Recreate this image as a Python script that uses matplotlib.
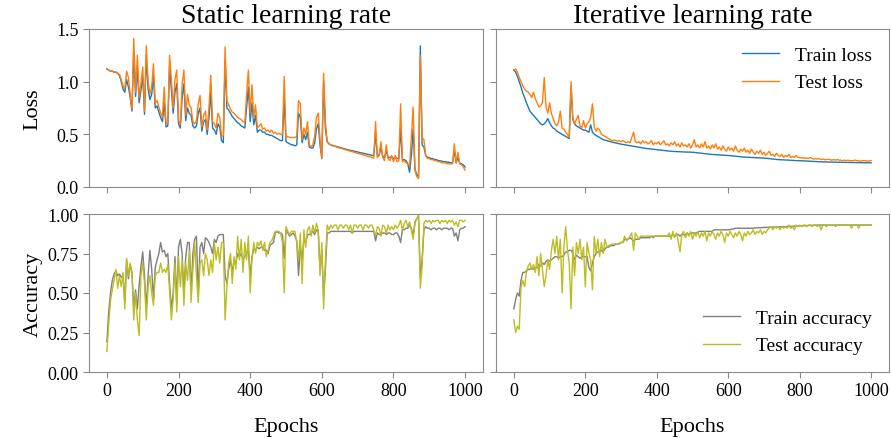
import numpy as np
import matplotlib
matplotlib.use("Agg")
import matplotlib.pyplot as plt

plt.rcParams['font.family'] = ['Liberation Serif', 'DejaVu Serif']

# one reading every 5 epochs, 0..1000
epochs = np.arange(0, 1001, 5)

static_train_loss = [
    1.12, 1.11, 1.10, 1.10, 1.09, 1.09, 1.08, 1.06, 1.00, 0.93,
    0.90, 1.02, 0.95, 0.85, 0.72, 1.30, 0.86, 1.15, 0.80, 0.92,
    1.05, 0.69, 1.25, 0.93, 0.83, 0.88, 1.05, 0.75, 0.77, 0.71,
    0.66, 0.62, 0.80, 0.57, 0.58, 1.15, 0.92, 0.70, 0.90, 0.98,
    0.60, 0.56, 0.85, 0.98, 0.63, 0.75, 0.70, 0.68, 0.58, 0.56,
    0.58, 0.70, 0.75, 0.53, 0.62, 0.64, 0.50, 0.66, 0.90, 0.56,
    0.54, 0.50, 0.60, 0.57, 0.44, 0.42, 1.20, 0.75, 0.73, 0.70,
    0.67, 0.65, 0.63, 0.61, 0.60, 0.58, 0.57, 0.56, 0.75, 0.95,
    0.62, 0.80, 0.59, 0.68, 0.52, 0.54, 0.54, 0.52, 0.52, 0.50,
    0.50, 0.49, 0.49, 0.48, 0.47, 0.46, 0.45, 0.44, 0.44, 0.85,
    0.43, 0.42, 0.41, 0.40, 0.40, 0.39, 0.40, 0.70, 0.66, 0.42,
    0.50, 0.45, 0.52, 0.38, 0.37, 0.37, 0.42, 0.55, 0.60, 0.40,
    0.27, 1.00, 0.55, 0.43, 0.41, 0.40, 0.395, 0.39, 0.385, 0.38,
    0.375, 0.37, 0.365, 0.36, 0.356, 0.352, 0.348, 0.344, 0.34, 0.336,
    0.332, 0.328, 0.324, 0.32, 0.316, 0.312, 0.308, 0.304, 0.30, 0.297,
    0.50, 0.30, 0.30, 0.38, 0.29, 0.28, 0.34, 0.28, 0.28, 0.29,
    0.27, 0.28, 0.27, 0.27, 0.55, 0.26, 0.26, 0.25, 0.22, 0.14,
    0.30, 0.55, 0.17, 0.12, 0.10, 1.34, 0.40, 0.38, 0.30, 0.28,
    0.28, 0.27, 0.27, 0.26, 0.26, 0.25, 0.25, 0.245, 0.24, 0.24,
    0.235, 0.235, 0.23, 0.23, 0.35, 0.23, 0.28, 0.225, 0.22, 0.21,
    0.19,
]
static_test_loss = [
    1.12, 1.11, 1.10, 1.10, 1.09, 1.09, 1.08, 1.07, 1.02, 0.96,
    0.93, 1.10, 1.04, 0.88, 0.74, 1.41, 0.90, 1.25, 0.85, 0.98,
    1.14, 0.72, 1.34, 1.00, 0.88, 0.95, 1.17, 0.79, 0.82, 0.76,
    0.70, 0.66, 0.95, 0.60, 0.61, 1.25, 1.02, 0.75, 1.02, 1.11,
    0.64, 0.59, 0.98, 1.11, 0.68, 0.88, 0.78, 0.75, 0.62, 0.60,
    0.63, 0.79, 0.87, 0.57, 0.68, 0.72, 0.54, 0.76, 1.06, 0.62,
    0.60, 0.56, 0.70, 0.66, 0.48, 0.49, 1.33, 0.82, 0.78, 0.74,
    0.71, 0.70, 0.68, 0.66, 0.65, 0.64, 0.62, 0.61, 0.88, 1.11,
    0.70, 0.97, 0.65, 0.78, 0.56, 0.58, 0.60, 0.55, 0.56, 0.53,
    0.54, 0.52, 0.54, 0.51, 0.52, 0.50, 0.51, 0.50, 0.50, 1.05,
    0.47, 0.48, 0.47, 0.47, 0.47, 0.47, 0.48, 0.82, 0.79, 0.45,
    0.56, 0.50, 0.62, 0.40, 0.38, 0.40, 0.48, 0.66, 0.70, 0.45,
    0.27, 1.08, 0.62, 0.43, 0.41, 0.40, 0.39, 0.39, 0.38, 0.375,
    0.37, 0.365, 0.36, 0.355, 0.35, 0.345, 0.34, 0.335, 0.33, 0.325,
    0.32, 0.315, 0.31, 0.305, 0.30, 0.295, 0.29, 0.285, 0.28, 0.275,
    0.62, 0.28, 0.30, 0.43, 0.28, 0.25, 0.40, 0.27, 0.25, 0.30,
    0.24, 0.30, 0.24, 0.25, 0.79, 0.24, 0.25, 0.23, 0.22, 0.20,
    0.48, 0.76, 0.16, 0.10, 0.08, 1.25, 0.47, 0.45, 0.30, 0.27,
    0.27, 0.26, 0.26, 0.25, 0.25, 0.24, 0.24, 0.23, 0.23, 0.23,
    0.22, 0.22, 0.22, 0.22, 0.41, 0.23, 0.33, 0.22, 0.21, 0.19,
    0.16,
]
iter_train_loss = [
    1.11, 1.09, 1.05, 1.00, 0.95, 0.89, 0.85, 0.80, 0.76, 0.72,
    0.70, 0.68, 0.66, 0.64, 0.62, 0.60, 0.59, 0.60, 0.62, 0.65,
    0.61, 0.58, 0.56, 0.55, 0.53, 0.52, 0.51, 0.50, 0.49, 0.48,
    0.47, 0.46, 0.95, 0.64, 0.60, 0.58, 0.57, 0.56, 0.55, 0.54,
    0.54, 0.53, 0.52, 0.59, 0.52, 0.50, 0.49, 0.48, 0.47, 0.46,
    0.45, 0.445, 0.44, 0.435, 0.43, 0.426, 0.422, 0.418, 0.414, 0.41,
    0.407, 0.404, 0.401, 0.398, 0.395, 0.392, 0.389, 0.386, 0.383, 0.38,
    0.377, 0.374, 0.371, 0.368, 0.366, 0.364, 0.362, 0.36, 0.358, 0.356,
    0.354, 0.352, 0.35, 0.348, 0.346, 0.344, 0.342, 0.34, 0.339, 0.338,
    0.337, 0.336, 0.335, 0.334, 0.333, 0.333, 0.332, 0.332, 0.331, 0.331,
    0.33, 0.328, 0.326, 0.324, 0.322, 0.32, 0.318, 0.316, 0.314, 0.312,
    0.31, 0.309, 0.308, 0.307, 0.306, 0.305, 0.304, 0.303, 0.302, 0.301,
    0.30, 0.298, 0.296, 0.294, 0.292, 0.29, 0.288, 0.286, 0.285, 0.284,
    0.283, 0.282, 0.281, 0.28, 0.279, 0.278, 0.277, 0.276, 0.276, 0.275,
    0.275, 0.273, 0.271, 0.27, 0.268, 0.266, 0.264, 0.262, 0.26, 0.259,
    0.258, 0.257, 0.256, 0.255, 0.254, 0.253, 0.252, 0.251, 0.251, 0.25,
    0.25, 0.249, 0.248, 0.247, 0.246, 0.245, 0.244, 0.243, 0.242, 0.241,
    0.24, 0.24, 0.239, 0.239, 0.238, 0.238, 0.237, 0.237, 0.236, 0.236,
    0.235, 0.235, 0.235, 0.234, 0.234, 0.234, 0.233, 0.233, 0.233, 0.232,
    0.232, 0.232, 0.231, 0.231, 0.231, 0.23, 0.23, 0.23, 0.23, 0.23,
    0.23,
]
iter_test_loss = [
    1.11, 1.12, 1.09, 1.04, 1.00, 0.96, 0.93, 0.91, 0.90, 0.88,
    0.85, 0.90, 0.84, 0.80, 0.76, 0.77, 0.80, 1.04, 0.76, 0.70,
    0.80, 0.70, 0.65, 0.60, 0.58, 0.62, 0.72, 0.56, 0.55, 0.52,
    0.50, 0.47, 1.00, 0.66, 0.60, 0.64, 0.68, 0.58, 0.56, 0.63,
    0.56, 0.60, 0.62, 0.66, 0.79, 0.57, 0.53, 0.56, 0.54, 0.50,
    0.49, 0.48, 0.47, 0.46, 0.45, 0.44, 0.445, 0.44, 0.435, 0.44,
    0.43, 0.44, 0.43, 0.42, 0.43, 0.42, 0.47, 0.52, 0.43, 0.42,
    0.43, 0.41, 0.44, 0.42, 0.43, 0.41, 0.42, 0.44, 0.40, 0.42,
    0.41, 0.43, 0.40, 0.42, 0.44, 0.40, 0.41, 0.39, 0.42, 0.40,
    0.43, 0.39, 0.41, 0.38, 0.42, 0.39, 0.40, 0.38, 0.41, 0.37,
    0.40, 0.45, 0.38, 0.40, 0.37, 0.41, 0.38, 0.43, 0.37, 0.39,
    0.36, 0.40, 0.37, 0.41, 0.36, 0.38, 0.35, 0.39, 0.36, 0.34,
    0.38, 0.35, 0.37, 0.34, 0.39, 0.35, 0.33, 0.36, 0.34, 0.37,
    0.33, 0.35, 0.32, 0.36, 0.33, 0.31, 0.34, 0.32, 0.35, 0.31,
    0.33, 0.30, 0.32, 0.34, 0.30, 0.31, 0.29, 0.32, 0.30, 0.29,
    0.31, 0.28, 0.30, 0.29, 0.31, 0.28, 0.29, 0.28, 0.30, 0.28,
    0.28, 0.275, 0.28, 0.27, 0.275, 0.27, 0.28, 0.27, 0.265, 0.27,
    0.265, 0.27, 0.26, 0.265, 0.26, 0.26, 0.265, 0.26, 0.255, 0.26,
    0.255, 0.26, 0.255, 0.255, 0.25, 0.255, 0.25, 0.255, 0.25, 0.25,
    0.25, 0.255, 0.25, 0.25, 0.245, 0.25, 0.25, 0.25, 0.245, 0.25,
    0.25,
]

static_train_acc = [
    0.19, 0.38, 0.50, 0.58, 0.62, 0.64, 0.61, 0.62, 0.60, 0.61,
    0.44, 0.71, 0.59, 0.68, 0.63, 0.40, 0.52, 0.40, 0.55, 0.67,
    0.76, 0.61, 0.40, 0.61, 0.77, 0.65, 0.46, 0.66, 0.71, 0.75,
    0.82, 0.76, 0.77, 0.73, 0.75, 0.56, 0.40, 0.50, 0.73, 0.44,
    0.79, 0.84, 0.75, 0.48, 0.73, 0.82, 0.82, 0.50, 0.75, 0.84,
    0.86, 0.48, 0.79, 0.82, 0.75, 0.85, 0.84, 0.82, 0.79, 0.75,
    0.84, 0.82, 0.86, 0.87, 0.87, 0.87, 0.61, 0.56, 0.65, 0.71,
    0.63, 0.71, 0.69, 0.75, 0.73, 0.75, 0.71, 0.73, 0.75, 0.77,
    0.61, 0.73, 0.78, 0.77, 0.79, 0.78, 0.79, 0.79, 0.77, 0.77,
    0.75, 0.80, 0.81, 0.82, 0.88, 0.89, 0.88, 0.88, 0.87, 0.72,
    0.90, 0.88, 0.86, 0.87, 0.88, 0.86, 0.83, 0.61, 0.79, 0.71,
    0.84, 0.82, 0.87, 0.87, 0.88, 0.89, 0.87, 0.90, 0.89, 0.65,
    0.77, 0.48, 0.65, 0.88, 0.88, 0.89, 0.89, 0.89, 0.89, 0.89,
    0.89, 0.89, 0.89, 0.89, 0.89, 0.89, 0.89, 0.88, 0.89, 0.89,
    0.89, 0.89, 0.89, 0.89, 0.89, 0.89, 0.89, 0.89, 0.89, 0.89,
    0.83, 0.88, 0.87, 0.87, 0.88, 0.88, 0.87, 0.88, 0.88, 0.87,
    0.87, 0.88, 0.88, 0.86, 0.82, 0.90, 0.90, 0.91, 0.91, 0.93,
    0.91, 0.86, 0.95, 0.97, 0.99, 0.60, 0.71, 0.90, 0.92, 0.91,
    0.91, 0.90, 0.91, 0.91, 0.90, 0.91, 0.91, 0.90, 0.91, 0.91,
    0.91, 0.90, 0.91, 0.91, 0.86, 0.88, 0.83, 0.90, 0.91, 0.91,
    0.92,
]
static_test_acc = [
    0.13, 0.30, 0.45, 0.52, 0.58, 0.65, 0.53, 0.61, 0.54, 0.63,
    0.40, 0.72, 0.61, 0.69, 0.61, 0.33, 0.50, 0.33, 0.23, 0.61,
    0.69, 0.56, 0.33, 0.54, 0.61, 0.50, 0.42, 0.61, 0.63, 0.63,
    0.69, 0.63, 0.65, 0.63, 0.68, 0.52, 0.33, 0.46, 0.69, 0.38,
    0.73, 0.54, 0.71, 0.42, 0.69, 0.58, 0.77, 0.44, 0.65, 0.82,
    0.61, 0.44, 0.69, 0.71, 0.61, 0.75, 0.71, 0.61, 0.71, 0.63,
    0.82, 0.71, 0.79, 0.69, 0.82, 0.82, 0.33, 0.54, 0.69, 0.75,
    0.56, 0.73, 0.65, 0.86, 0.71, 0.84, 0.63, 0.82, 0.71, 0.86,
    0.50, 0.71, 0.82, 0.75, 0.82, 0.80, 0.83, 0.77, 0.82, 0.73,
    0.77, 0.82, 0.83, 0.86, 0.89, 0.89, 0.89, 0.88, 0.82, 0.50,
    0.92, 0.89, 0.87, 0.89, 0.89, 0.89, 0.82, 0.71, 0.88, 0.56,
    0.90, 0.79, 0.90, 0.92, 0.86, 0.93, 0.88, 0.94, 0.90, 0.61,
    0.82, 0.40, 0.71, 0.93, 0.90, 0.93, 0.91, 0.93, 0.93, 0.90,
    0.93, 0.93, 0.91, 0.93, 0.93, 0.90, 0.93, 0.88, 0.93, 0.93,
    0.91, 0.93, 0.93, 0.90, 0.93, 0.93, 0.91, 0.93, 0.93, 0.90,
    0.86, 0.92, 0.91, 0.86, 0.93, 0.92, 0.88, 0.93, 0.90, 0.92,
    0.90, 0.93, 0.91, 0.93, 0.96, 0.90, 0.94, 0.96, 0.92, 0.95,
    0.90, 0.84, 0.94, 0.97, 0.99, 0.53, 0.67, 0.94, 0.96, 0.95,
    0.96, 0.94, 0.96, 0.95, 0.96, 0.96, 0.94, 0.96, 0.95, 0.96,
    0.94, 0.96, 0.95, 0.96, 0.93, 0.95, 0.92, 0.96, 0.96, 0.95,
    0.96,
]
iter_train_acc = [
    0.40, 0.46, 0.50, 0.48, 0.58, 0.63, 0.63, 0.64, 0.65, 0.65,
    0.66, 0.65, 0.66, 0.66, 0.68, 0.67, 0.69, 0.68, 0.70, 0.71,
    0.70, 0.71, 0.72, 0.73, 0.73, 0.72, 0.73, 0.73, 0.74, 0.76,
    0.76, 0.77, 0.77, 0.75, 0.71, 0.74, 0.73, 0.72, 0.73, 0.73,
    0.73, 0.73, 0.66, 0.64, 0.69, 0.73, 0.75, 0.76, 0.76, 0.77,
    0.76, 0.78, 0.79, 0.79, 0.80, 0.80, 0.80, 0.81, 0.81, 0.81,
    0.82, 0.82, 0.84, 0.84, 0.84, 0.85, 0.84, 0.83, 0.84, 0.84,
    0.84, 0.85, 0.85, 0.85, 0.85, 0.85, 0.85, 0.86, 0.85, 0.86,
    0.86, 0.86, 0.86, 0.86, 0.86, 0.86, 0.86, 0.86, 0.86, 0.87,
    0.86, 0.87, 0.87, 0.86, 0.87, 0.87, 0.87, 0.88, 0.87, 0.88,
    0.88, 0.88, 0.88, 0.885, 0.89, 0.89, 0.89, 0.89, 0.89, 0.89,
    0.89, 0.89, 0.90, 0.90, 0.90, 0.90, 0.90, 0.90, 0.90, 0.90,
    0.90, 0.90, 0.905, 0.905, 0.91, 0.91, 0.91, 0.91, 0.91, 0.91,
    0.91, 0.91, 0.91, 0.91, 0.91, 0.912, 0.912, 0.913, 0.913, 0.914,
    0.915, 0.915, 0.916, 0.916, 0.917, 0.917, 0.918, 0.918, 0.919, 0.919,
    0.92, 0.92, 0.92, 0.921, 0.921, 0.922, 0.922, 0.923, 0.923, 0.924,
    0.925, 0.925, 0.926, 0.926, 0.927, 0.927, 0.928, 0.928, 0.929, 0.929,
    0.93, 0.93, 0.93, 0.93, 0.93, 0.93, 0.93, 0.93, 0.93, 0.93,
    0.93, 0.93, 0.93, 0.93, 0.93, 0.93, 0.93, 0.93, 0.93, 0.93,
    0.93, 0.93, 0.93, 0.93, 0.93, 0.93, 0.93, 0.93, 0.93, 0.93,
    0.93,
]
iter_test_acc = [
    0.33, 0.25, 0.29, 0.27, 0.54, 0.58, 0.54, 0.63, 0.67, 0.69,
    0.65, 0.68, 0.63, 0.73, 0.61, 0.75, 0.65, 0.54, 0.61, 0.71,
    0.65, 0.77, 0.84, 0.75, 0.86, 0.71, 0.84, 0.50, 0.79, 0.92,
    0.77, 0.69, 0.40, 0.79, 0.61, 0.82, 0.75, 0.84, 0.71, 0.79,
    0.54, 0.82, 0.75, 0.71, 0.52, 0.86, 0.75, 0.84, 0.73, 0.82,
    0.75, 0.84, 0.79, 0.80, 0.805, 0.81, 0.81, 0.81, 0.81, 0.815,
    0.82, 0.82, 0.86, 0.83, 0.84, 0.86, 0.88, 0.77, 0.88, 0.86,
    0.84, 0.86, 0.86, 0.86, 0.86, 0.86, 0.86, 0.86, 0.86, 0.86,
    0.86, 0.86, 0.86, 0.86, 0.86, 0.86, 0.86, 0.88, 0.84, 0.89,
    0.85, 0.88, 0.83, 0.76, 0.87, 0.89, 0.85, 0.88, 0.86, 0.89,
    0.84, 0.88, 0.86, 0.89, 0.85, 0.88, 0.86, 0.89, 0.83, 0.88,
    0.86, 0.89, 0.87, 0.84, 0.88, 0.86, 0.89, 0.87, 0.82, 0.88,
    0.86, 0.89, 0.87, 0.85, 0.88, 0.86, 0.89, 0.87, 0.83, 0.88,
    0.86, 0.89, 0.87, 0.88, 0.90, 0.87, 0.89, 0.88, 0.90, 0.87,
    0.89, 0.88, 0.90, 0.91, 0.92, 0.90, 0.92, 0.91, 0.92, 0.90,
    0.92, 0.91, 0.92, 0.91, 0.93, 0.91, 0.92, 0.90, 0.93, 0.92,
    0.93, 0.92, 0.93, 0.93, 0.92, 0.93, 0.93, 0.92, 0.93, 0.93,
    0.92, 0.93, 0.90, 0.93, 0.93, 0.92, 0.93, 0.93, 0.93, 0.93,
    0.92, 0.93, 0.93, 0.93, 0.93, 0.93, 0.93, 0.93, 0.93, 0.91,
    0.93, 0.93, 0.93, 0.91, 0.93, 0.93, 0.93, 0.93, 0.93, 0.93,
    0.93,
]

titles = ["Static learning rate", "Iterative learning rate"]
loss_ticks = [0.0, 0.5, 1.0, 1.5]
acc_ticks = [0.0, 0.25, 0.5, 0.75, 1.0]
epoch_ticks = [0, 200, 400, 600, 800, 1000]

spine_col = "#8a8a8a"

fig = plt.figure(figsize=(8.91, 4.39), dpi=100)
W, H = 891, 439


def add_ax(x0, y0, x1, y1):
    return fig.add_axes([x0 / W, 1 - y1 / H, (x1 - x0) / W, (y1 - y0) / H])


ax_ls = add_ax(89, 30, 483, 188)
ax_li = add_ax(496, 30, 889, 188)
ax_as = add_ax(89, 215, 483, 373)
ax_ai = add_ax(496, 215, 889, 373)

lw = 1.0
ax_ls.plot(epochs, static_train_loss, color="tab:blue", lw=lw, label="Train loss")
ax_ls.plot(epochs, static_test_loss, color="tab:orange", lw=lw, label="Test loss")
ax_li.plot(epochs, iter_train_loss, color="tab:blue", lw=lw, label="Train loss")
ax_li.plot(epochs, iter_test_loss, color="tab:orange", lw=lw, label="Test loss")
ax_as.plot(epochs, static_train_acc, color="tab:gray", lw=lw, label="Train accuracy")
ax_as.plot(epochs, static_test_acc, color="tab:olive", lw=lw, label="Test accuracy")
ax_ai.plot(epochs, iter_train_acc, color="tab:gray", lw=lw, label="Train accuracy")
ax_ai.plot(epochs, iter_test_acc, color="tab:olive", lw=lw, label="Test accuracy")

for ax in (ax_ls, ax_li, ax_as, ax_ai):
    ax.set_xlim(-50, 1050)
    ax.set_xticks(epoch_ticks)
    for s in ax.spines.values():
        s.set_color(spine_col)
        s.set_linewidth(0.8)
    ax.tick_params(color=spine_col, length=4, width=0.8, labelsize=13)

for ax in (ax_ls, ax_li):
    ax.set_ylim(0, 1.5)
    ax.set_yticks(loss_ticks)
    ax.tick_params(labelbottom=False)
for ax in (ax_as, ax_ai):
    ax.set_ylim(0, 1.0)
    ax.set_yticks(acc_ticks)
    ax.set_xlabel("Epochs", fontsize=16, labelpad=13)

ax_ls.set_yticklabels(["0.0", "0.5", "1.0", "1.5"])
ax_as.set_yticklabels(["0.00", "0.25", "0.50", "0.75", "1.00"])
ax_li.tick_params(labelleft=False)
ax_ai.tick_params(labelleft=False)

ax_ls.set_ylabel("Loss", fontsize=16, labelpad=10)
ax_as.set_ylabel("Accuracy", fontsize=16, labelpad=3)
ax_ls.set_title(titles[0], fontsize=20, pad=5)
ax_li.set_title(titles[1], fontsize=20, pad=5)

ax_li.legend(loc="upper right", frameon=False, fontsize=14, handlelength=1.9)
ax_ai.legend(loc="lower right", frameon=False, fontsize=14, handlelength=1.9)

fig.savefig("out.png", dpi=100)
